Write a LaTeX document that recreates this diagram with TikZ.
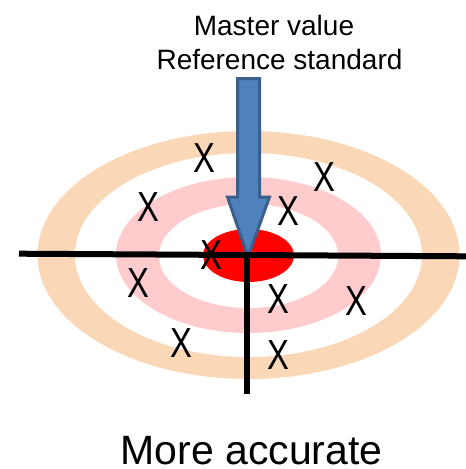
\documentclass[tikz,border=0pt]{standalone}
\usepackage{fontspec}
\setmainfont{Liberation Sans}
\definecolor{ringorange}{HTML}{FAD7B6}
\definecolor{ringpink}{HTML}{FFCCCD}
\definecolor{bullred}{HTML}{FF0000}
\definecolor{arrowfill}{HTML}{4F81BD}
\definecolor{arrowedge}{HTML}{3A5F8B}
\tikzset{
  xmark/.style={inner sep=0pt, font=\fontsize{42}{42}\selectfont, xscale=0.78},
  caption/.style={inner sep=0pt, anchor=base},
  axisline/.style={line width=6pt, black},
}
\begin{document}
\begin{tikzpicture}[x=1pt,y=-1pt]
\useasboundingbox (0,0) rectangle (466,469);
% target rings
\fill[ringorange] (248.5,255) ellipse [x radius=211, y radius=124];
\fill[white] (248.5,255) ellipse [x radius=173.5, y radius=102];
\fill[ringpink] (248.5,255) ellipse [x radius=132.5, y radius=78];
\fill[white] (248.5,256) ellipse [x radius=89.5, y radius=52];
\fill[bullred] (248.5,255.5) ellipse [x radius=45.5, y radius=26.5];
% block arrow pointing at the centre
\filldraw[fill=arrowfill, draw=arrowedge, line width=3pt, line join=miter]
  (237.5,78.5) -- (259.5,78.5) -- (259.5,197) -- (269.5,197)
  -- (248,257) -- (227.5,197) -- (237.5,197) -- cycle;
% axes
\coordinate (hl) at (19,253.7);
\coordinate (hr) at (466,256.3);
\coordinate (vt) at (247,256);
\coordinate (vb) at (247,394);
\draw[axisline] (hl) -- (hr);
\draw[line width=5.5pt] (vt) -- (vb);
% measurement marks
\node[xmark] (m1) at (204,158) {X};
\node[xmark] (m2) at (148,207) {X};
\node[xmark] (m3) at (324,177) {X};
\node[xmark] (m4) at (288,211) {X};
\node[xmark] (m5) at (211,255) {X};
\node[xmark] (m6) at (138,283) {X};
\node[xmark] (m7) at (278,299) {X};
\node[xmark] (m8) at (356,301) {X};
\node[xmark] (m9) at (181,343) {X};
\node[xmark] (m10) at (278,355) {X};
% labels
\node[caption, font=\fontsize{28}{28}\selectfont] (t1) at (274,35) {Master value};
\node[caption, font=\fontsize{28}{28}\selectfont] (t2) at (279.5,69) {Reference standard};
\node[caption, font=\fontsize{41}{41}\selectfont] (t3) at (251.5,464) {More accurate};
\end{tikzpicture}
\end{document}
